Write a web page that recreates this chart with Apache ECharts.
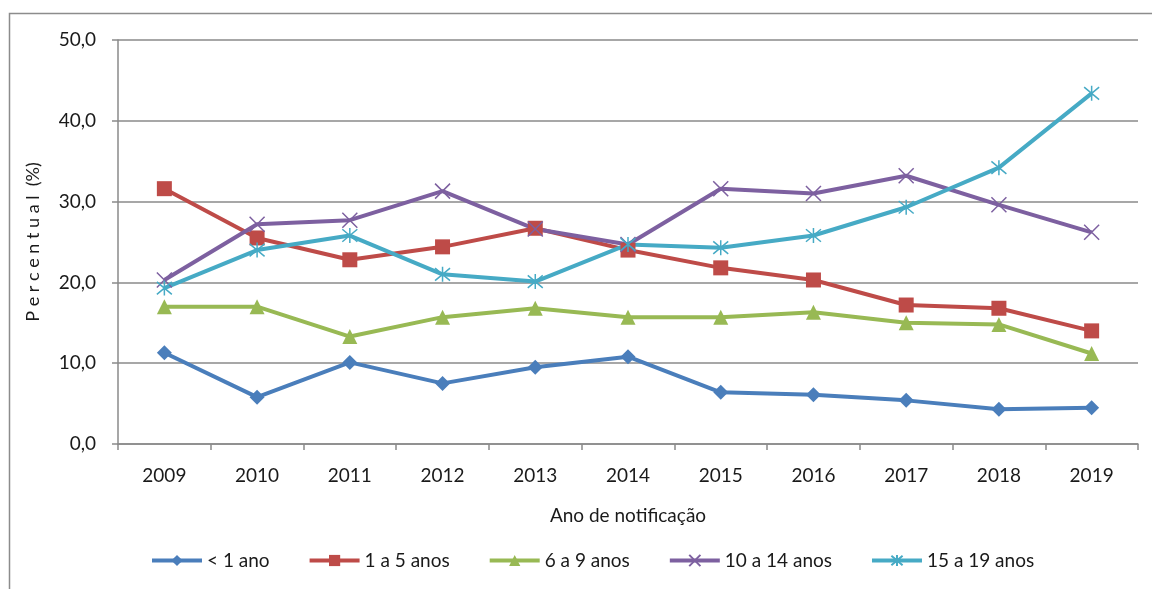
<!DOCTYPE html>
<html style="height: 100%">
<head>
  <meta charset="utf-8">
  <script src="https://cdn.jsdelivr.net/npm/echarts@6/dist/echarts.min.js"></script>
  <title>Percentual por faixa etária</title>
</head>
<body style="height: 100%; margin: 0; background: #fff">
<div id="container" style="width: 1152px; height: 589px"></div>
<script type="text/javascript">

// data
const years = ['2009', '2010', '2011', '2012', '2013', '2014', '2015', '2016', '2017', '2018', '2019'];
const menos1 = [11.3, 5.8, 10.1, 7.5, 9.5, 10.8, 6.4, 6.1, 5.4, 4.3, 4.5];
const de1a5 = [31.6, 25.5, 22.8, 24.4, 26.7, 24.0, 21.8, 20.3, 17.2, 16.8, 14.0];
const de6a9 = [17.0, 17.0, 13.3, 15.7, 16.8, 15.7, 15.7, 16.3, 15.0, 14.8, 11.2];
const de10a14 = [20.3, 27.2, 27.7, 31.3, 26.6, 24.7, 31.6, 31.0, 33.2, 29.6, 26.2];
const de15a19 = [19.3, 24.0, 25.8, 21.0, 20.1, 24.7, 24.3, 25.8, 29.3, 34.2, 43.4];

const font = 'Lato, "Open Sans", sans-serif';
const gridColor = '#8a8a8a';
const textColor = '#1a1a1a';

let dom = document.getElementById('container');
let chart = echarts.init(dom);

function lineSeries(name, data, color, symbol, size, stroked) {
  return {
    name: name,
    type: 'line',
    data: data,
    symbol: symbol,
    symbolSize: size,
    showAllSymbol: true,
    lineStyle: { color: color, width: 4 },
    itemStyle: stroked
      ? { color: 'rgba(0,0,0,0)', borderColor: color, borderWidth: 1.5 }
      : { color: color, borderWidth: 0 },
    emphasis: { disabled: true },
    z: 3
  };
}

chart.setOption({
  animation: false,
  textStyle: { fontFamily: font },
  graphic: [
    {
      type: 'rect',
      shape: { x: 9.5, y: 13.5, width: 1300, height: 700 },
      style: { fill: 'none', stroke: '#8c8c8c', lineWidth: 1.5 },
      silent: true
    }
  ],
  grid: { left: 118, right: 14, top: 40, bottom: 145 },
  legend: {
    left: 145,
    top: 546,
    itemWidth: 50,
    itemHeight: 14,
    itemGap: 38,
    lineStyle: { width: 4 },
    textStyle: { fontFamily: font, fontSize: 19, color: textColor },
    data: ['< 1 ano', '1 a 5 anos', '6 a 9 anos', '10 a 14 anos', '15 a 19 anos']
  },
  xAxis: {
    type: 'category',
    data: years,
    boundaryGap: true,
    name: 'Ano de notificação',
    nameLocation: 'middle',
    nameGap: 62,
    nameTextStyle: { fontFamily: font, fontSize: 19, color: textColor },
    axisLine: { lineStyle: { color: gridColor, width: 1.5 } },
    axisTick: { show: true, length: 6, interval: 0, lineStyle: { color: gridColor, width: 1.5 } },
    axisLabel: { margin: 22, fontFamily: font, fontSize: 19, color: textColor }
  },
  yAxis: {
    type: 'value',
    min: 0,
    max: 50,
    interval: 10,
    name: 'P e r c e n t u a l  (%)',
    nameLocation: 'middle',
    nameGap: 76,
    nameRotate: 90,
    nameTextStyle: { fontFamily: font, fontSize: 18, color: textColor },
    axisLine: { show: true, lineStyle: { color: gridColor, width: 1.5 } },
    axisTick: { show: true, length: 6, lineStyle: { color: gridColor, width: 1.5 } },
    splitLine: { lineStyle: { color: gridColor, width: 1.5 } },
    axisLabel: {
      margin: 22,
      fontFamily: font,
      fontSize: 19,
      color: textColor,
      formatter: function (v) { return v.toFixed(1).replace('.', ','); }
    }
  },
  series: [
    lineSeries('< 1 ano', menos1, '#4A7EBB', 'diamond', 15, false),
    lineSeries('1 a 5 anos', de1a5, '#BE4B48', 'rect', 15, false),
    lineSeries('6 a 9 anos', de6a9, '#98B954', 'triangle', 15, false),
    lineSeries('10 a 14 anos', de10a14, '#7D60A0', 'path://M0,0 L10,10 M10,0 L0,10', 15, true),
    lineSeries('15 a 19 anos', de15a19, '#46AAC5', 'path://M0,0 L10,10 M10,0 L0,10 M5,-1 L5,11', 15, true)
  ]
});

</script>
</body>
</html>
